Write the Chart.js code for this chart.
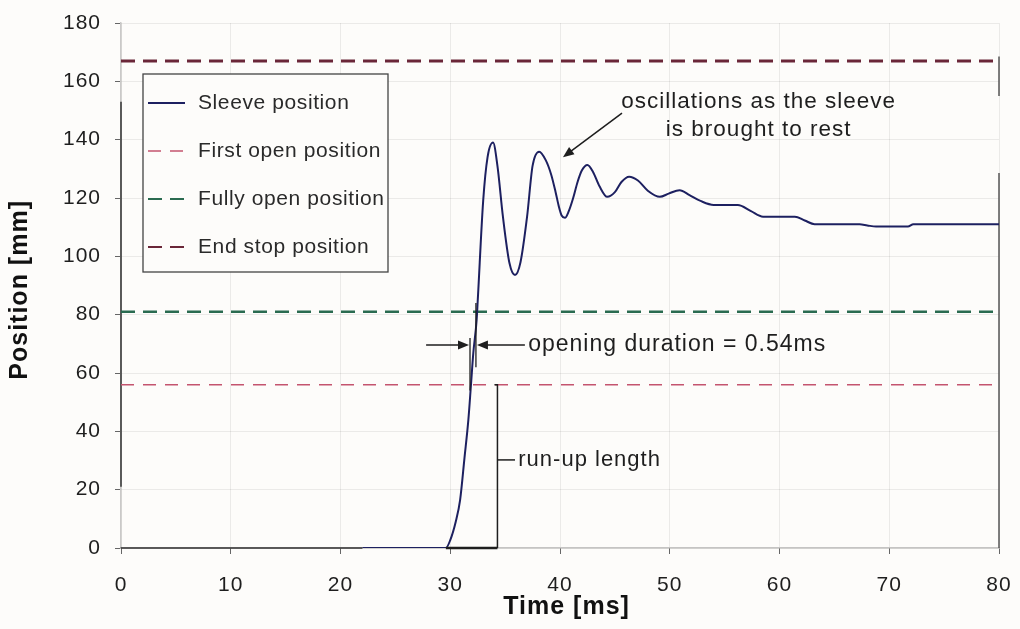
<!DOCTYPE html>
<html>
<head>
<meta charset="utf-8">
<script src="https://cdn.jsdelivr.net/npm/chart.js@4/dist/chart.umd.min.js"></script>
<style>
  html, body { margin: 0; padding: 0; background: #fdfcfa; }
  #wrap { width: 1020px; height: 629px; }
</style>
</head>
<body>
<div id="wrap"><canvas id="sleeveChart" width="1020" height="629"></canvas></div>
<script>
// sleeve travel, time in ms / position in mm
const timeMs = [22, 29.6, 30.0, 30.5, 30.9, 31.3, 31.65, 31.9, 32.1, 32.4, 32.5, 33.0, 33.4, 33.9,
  34.3, 34.8, 35.4, 35.9, 36.4, 37.0, 37.5, 38.1, 38.7, 39.2, 39.6, 39.9, 40.15, 40.45, 40.8, 41.2,
  41.6, 42.0, 42.5, 43.0, 43.6, 44.3, 45.0, 45.6, 46.3, 47.1, 48.0, 49.1, 49.9, 50.9, 51.8, 52.8,
  54.0, 56.2, 57.4, 58.5, 61.4, 62.3, 63.2, 67.3, 68.0, 68.8, 71.7, 72.2, 80];
const positionMm = [0, 0, 2.7, 9, 16.5, 31, 43.9, 56.6, 66.8, 78, 84.5, 119, 134, 139,
  131, 113.6, 97.6, 93.6, 98, 113.6, 131, 135.9, 133, 128, 122, 117, 114, 113.2, 115.5, 120,
  125.5, 129.5, 131.3, 129, 124, 120.4, 122, 125.5, 127.3, 126, 122.5, 120.4, 121.5, 122.7, 121, 119,
  117.6, 117.6, 115.5, 113.6, 113.6, 112.3, 111, 111, 110.6, 110.2, 110.2, 111, 111];

const firstOpenMm = 56;
const fullyOpenMm = 81;
const endStopMm = 167;

const xMin = 0, xMax = 80, xStep = 10;
const yMin = 0, yMax = 180, yStep = 20;

const openingStartMs = 31.8;
const openingDurationMs = 0.54;
const runUpStartMs = 29.6;
const runUpEndMs = 34.3;

const legendNames = ["Sleeve position", "First open position", "Fully open position", "End stop position"];
const xTitle = "Time [ms]";
const yTitle = "Position [mm]";

const BG = "#fdfcfa";
const INK = "#1e1e1e";
const FONT = "'Liberation Sans', Arial, sans-serif";

function hline(value) {
  return [{ x: xMin, y: value }, { x: xMax, y: value }];
}

function arrow(ctx, x1, y1, x2, y2) {
  const a = Math.atan2(y2 - y1, x2 - x1);
  ctx.beginPath();
  ctx.moveTo(x1, y1);
  ctx.lineTo(x2 - 8 * Math.cos(a), y2 - 8 * Math.sin(a));
  ctx.stroke();
  ctx.beginPath();
  ctx.moveTo(x2, y2);
  ctx.lineTo(x2 - 11 * Math.cos(a) + 4.5 * Math.sin(a), y2 - 11 * Math.sin(a) - 4.5 * Math.cos(a));
  ctx.lineTo(x2 - 11 * Math.cos(a) - 4.5 * Math.sin(a), y2 - 11 * Math.sin(a) + 4.5 * Math.cos(a));
  ctx.closePath();
  ctx.fill();
}

function seg(ctx, x1, y1, x2, y2) {
  ctx.beginPath();
  ctx.moveTo(x1, y1);
  ctx.lineTo(x2, y2);
  ctx.stroke();
}

const paperPlugin = {
  id: "paper",
  beforeDraw(chart) {
    const ctx = chart.ctx;
    ctx.save();
    ctx.fillStyle = BG;
    ctx.fillRect(0, 0, chart.width, chart.height);
    ctx.restore();
    ctx.letterSpacing = "1px";
  }
};

const notesPlugin = {
  id: "notes",
  beforeDatasetsDraw(chart) {
    const ctx = chart.ctx;
    const X = v => chart.scales.x.getPixelForValue(v);
    const Y = v => chart.scales.y.getPixelForValue(v);
    ctx.save();
    // solid parts of the frame
    ctx.strokeStyle = "#333";
    ctx.lineWidth = 1.5;
    seg(ctx, X(xMin), Y(0), X(22), Y(0));
    seg(ctx, X(xMin), Y(21), X(xMin), Y(153));
    ctx.strokeStyle = "#555";
    seg(ctx, X(xMax), Y(0), X(xMax), Y(128.6));
    seg(ctx, X(xMax), Y(155), X(xMax), Y(168.5));
    ctx.restore();
  },
  afterDatasetsDraw(chart) {
    const ctx = chart.ctx;
    const X = v => chart.scales.x.getPixelForValue(v);
    const Y = v => chart.scales.y.getPixelForValue(v);
    ctx.save();
    ctx.letterSpacing = "1px";
    ctx.strokeStyle = INK;
    ctx.fillStyle = INK;

    // opening duration marker
    const openEnd = openingStartMs + openingDurationMs;
    ctx.lineWidth = 1.3;
    seg(ctx, X(openingStartMs), Y(firstOpenMm - 2), X(openingStartMs), Y(72));
    seg(ctx, X(openEnd), Y(62), X(openEnd), Y(fullyOpenMm + 3));
    arrow(ctx, X(27.8), Y(69.6), X(openingStartMs) - 1, Y(69.6));
    arrow(ctx, X(36.8), Y(69.6), X(openEnd) + 1, Y(69.6));
    ctx.font = "23px " + FONT;
    ctx.textAlign = "left";
    ctx.textBaseline = "middle";
    ctx.fillText("opening duration = " + openingDurationMs + "ms", X(37.1), Y(69.6));

    // run-up bracket
    ctx.lineWidth = 2.5;
    seg(ctx, X(runUpStartMs), Y(0), X(runUpEndMs), Y(0));
    ctx.lineWidth = 1.5;
    ctx.beginPath();
    ctx.moveTo(X(runUpEndMs), Y(0));
    ctx.lineTo(X(runUpEndMs), Y(firstOpenMm));
    ctx.lineTo(X(runUpEndMs) - 3, Y(firstOpenMm));
    ctx.stroke();
    seg(ctx, X(runUpEndMs), Y(30.2), X(35.9), Y(30.2));
    ctx.font = "22px " + FONT;
    ctx.fillText("run-up length", X(36.2), Y(30.2));

    // oscillation note
    ctx.lineWidth = 1.5;
    arrow(ctx, X(45.65), Y(149.1), X(40.27), Y(134.0));
    ctx.font = "22.5px " + FONT;
    ctx.textAlign = "center";
    ctx.fillText("oscillations as the sleeve", X(58.1), Y(152.9));
    ctx.fillText("is brought to rest", X(58.1), Y(143.3));

    // axis titles
    ctx.fillStyle = "#111";
    ctx.font = "bold 25px " + FONT;
    ctx.fillText(xTitle, X(40.6), 607);
    ctx.save();
    ctx.translate(20, Y(88.5));
    ctx.rotate(-Math.PI / 2);
    ctx.fillText(yTitle, 0, 0);
    ctx.restore();

    // legend box
    const a = chart.chartArea;
    const bx = a.left + 22, by = a.top + 51, bw = 245, bh = 198;
    ctx.fillStyle = BG;
    ctx.fillRect(bx, by, bw, bh);
    ctx.strokeStyle = "#444";
    ctx.lineWidth = 1.3;
    ctx.strokeRect(bx, by, bw, bh);
    ctx.font = "21px " + FONT;
    ctx.letterSpacing = "0.6px";
    ctx.textAlign = "left";
    chart.data.datasets.forEach((ds, i) => {
      const ly = by + 29 + i * 48;
      ctx.strokeStyle = ds.borderColor;
      ctx.lineWidth = Math.min(ds.borderWidth, 2);
      ctx.setLineDash(ds.borderDash || []);
      seg(ctx, bx + 5, ly, bx + 42, ly);
      ctx.setLineDash([]);
      ctx.fillStyle = "#2a2a2a";
      ctx.fillText(legendNames[i], bx + 55, ly);
    });
    ctx.restore();
  }
};

new Chart(document.getElementById("sleeveChart"), {
  type: "line",
  data: {
    datasets: [
      {
        label: legendNames[0],
        data: timeMs.map((t, i) => ({ x: t, y: positionMm[i] })),
        borderColor: "#1d2060",
        borderWidth: 2,
        pointRadius: 0,
        cubicInterpolationMode: "monotone"
      },
      {
        label: legendNames[1],
        data: hline(firstOpenMm),
        borderColor: "#c4546f",
        borderWidth: 1.5,
        borderDash: [13, 9],
        pointRadius: 0
      },
      {
        label: legendNames[2],
        data: hline(fullyOpenMm),
        borderColor: "#2a6b50",
        borderWidth: 2.5,
        borderDash: [14, 8],
        pointRadius: 0
      },
      {
        label: legendNames[3],
        data: hline(endStopMm),
        borderColor: "#6a2638",
        borderWidth: 3,
        borderDash: [14, 8],
        pointRadius: 0
      }
    ]
  },
  options: {
    responsive: false,
    animation: false,
    layout: { padding: { top: 23, right: 21, left: 0, bottom: 0 } },
    plugins: {
      legend: { display: false },
      tooltip: { enabled: false }
    },
    scales: {
      x: {
        type: "linear",
        min: xMin,
        max: xMax,
        afterFit: s => { s.height = 81; s.paddingLeft = 0; s.paddingRight = 0; },
        ticks: {
          stepSize: xStep,
          color: INK,
          padding: 19,
          font: { family: FONT, size: 21 }
        },
        grid: { color: "rgba(0,0,0,0.07)", tickColor: "#666", tickLength: 6 },
        border: { display: true, color: "rgba(0,0,0,0.22)", width: 1.5 }
      },
      y: {
        min: yMin,
        max: yMax,
        afterFit: s => { s.width = 121; s.paddingTop = 0; s.paddingBottom = 0; },
        ticks: {
          stepSize: yStep,
          color: INK,
          padding: 14,
          font: { family: FONT, size: 21 }
        },
        grid: { color: "rgba(0,0,0,0.07)", tickColor: "#666", tickLength: 6 },
        border: { display: true, color: "rgba(0,0,0,0.2)", width: 1.5 }
      }
    }
  },
  plugins: [paperPlugin, notesPlugin]
});
</script>
</body>
</html>
